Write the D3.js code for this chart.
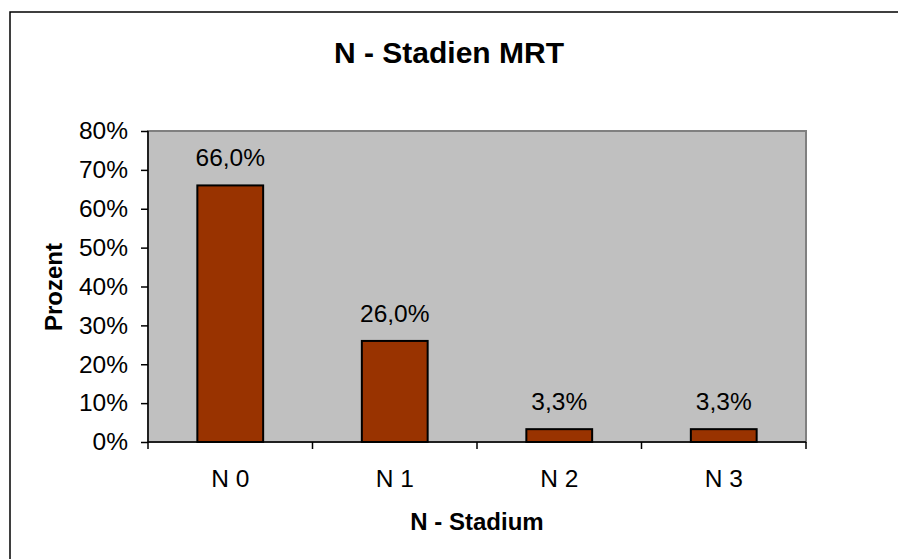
<!DOCTYPE html>
<html><head><meta charset="utf-8">
<script src="https://cdn.jsdelivr.net/npm/d3@7"></script>
<style>
html,body{margin:0;padding:0;background:#fff;}
svg{display:block;font-family:"Liberation Sans",Arial,sans-serif;}
</style></head>
<body>
<svg id="chart" width="898" height="559"></svg>
<script>
const categories = ["N 0", "N 1", "N 2", "N 3"];
const values = [66.0, 26.0, 3.3, 3.3];
const yTicks = [0, 10, 20, 30, 40, 50, 60, 70, 80];
const title = "N - Stadien MRT";
const xTitle = "N - Stadium";
const yTitle = "Prozent";

const svg = d3.select("#chart");
const plot = {left: 148, top: 131, right: 806, bottom: 442};

// outer frame
svg.append("rect").attr("x", 10).attr("y", 12).attr("width", 900).attr("height", 560)
  .attr("fill", "#fff").attr("stroke", "#000").attr("stroke-width", 1.5);

const x = d3.scaleBand().domain(categories).range([plot.left, plot.right])
  .paddingInner(0.6).paddingOuter(0.3);
const y = d3.scaleLinear().domain([0, 80]).range([plot.bottom, plot.top]);

// plot area
svg.append("rect").attr("x", plot.left).attr("y", plot.top)
  .attr("width", plot.right - plot.left).attr("height", plot.bottom - plot.top)
  .attr("fill", "#c0c0c0").attr("stroke", "#808080").attr("stroke-width", 2);

// bars
svg.selectAll("rect.bar").data(values).join("rect").attr("class", "bar")
  .attr("x", (d, i) => x(categories[i]))
  .attr("y", d => y(d))
  .attr("width", x.bandwidth())
  .attr("height", d => y(0) - y(d))
  .attr("fill", "#993300").attr("stroke", "#000").attr("stroke-width", 2);

// data labels
svg.selectAll("text.lbl").data(values).join("text").attr("class", "lbl")
  .attr("x", (d, i) => x(categories[i]) + x.bandwidth() / 2)
  .attr("y", d => y(d) - 19)
  .attr("text-anchor", "middle").attr("font-size", 24.5).attr("fill", "#000")
  .text(d => d.toFixed(1).replace(".", ",") + "%");

// y axis
const yAxis = d3.axisLeft(y).tickValues(yTicks).tickSize(7).tickPadding(13)
  .tickFormat(d => d + "%");
const gy = svg.append("g").attr("transform", `translate(${plot.left},0)`).call(yAxis);
gy.select(".domain").attr("stroke", "#000").attr("stroke-width", 1.5).attr("d", `M0,${plot.top}V${plot.bottom}`);
gy.selectAll(".tick line").attr("stroke", "#000").attr("stroke-width", 1.5);
gy.selectAll(".tick text").attr("font-size", 24.5).attr("fill", "#000")
  .attr("font-family", "Liberation Sans, Arial, sans-serif");

// x axis
const xAxis = d3.axisBottom(x).tickSize(0).tickPadding(0);
const gx = svg.append("g").attr("transform", `translate(0,${plot.bottom})`).call(xAxis);
gx.select(".domain").attr("stroke", "#000").attr("stroke-width", 1.5).attr("d", `M${plot.left},0H${plot.right}`);
gx.selectAll(".tick text").attr("font-size", 24.5).attr("fill", "#000")
  .attr("font-family", "Liberation Sans, Arial, sans-serif")
  .attr("y", 45).attr("dy", 0);
// boundary ticks between categories
const bounds = categories.map(c => x(c) + x.bandwidth() / 2 - x.step() / 2);
bounds.push(plot.right);
gx.selectAll("line.bt").data(bounds).join("line").attr("class", "bt")
  .attr("x1", d => d).attr("x2", d => d).attr("y1", 0).attr("y2", 7)
  .attr("stroke", "#000").attr("stroke-width", 1.5);

// titles
svg.append("text").attr("x", 449).attr("y", 63).attr("text-anchor", "middle")
  .attr("font-size", 30).attr("font-weight", "bold").text(title);
svg.append("text").attr("x", 477).attr("y", 530).attr("text-anchor", "middle")
  .attr("font-size", 24).attr("font-weight", "bold").text(xTitle);
svg.append("text").attr("transform", "translate(62,287) rotate(-90)").attr("text-anchor", "middle")
  .attr("font-size", 24).attr("font-weight", "bold").text(yTitle);
</script>
</body></html>
